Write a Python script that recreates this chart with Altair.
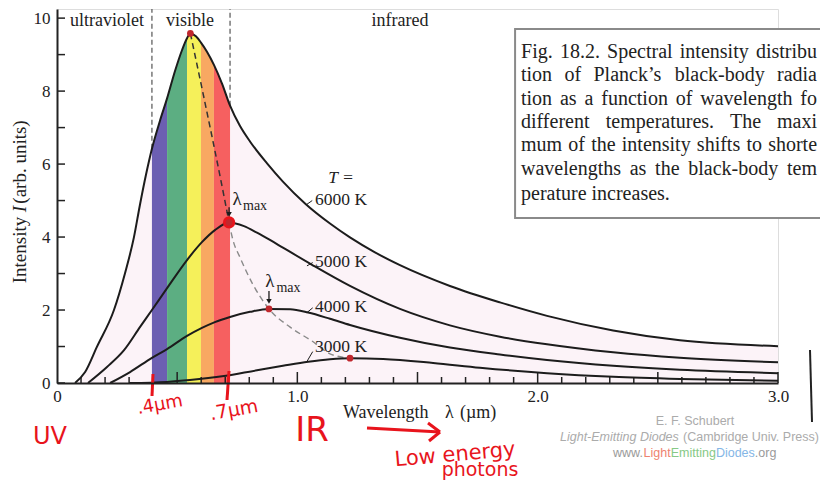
import altair as alt
import pandas as pd

# ---------------- values ----------------
lam_6000 = [0.075, 0.117, 0.166, 0.237, 0.283, 0.320, 0.345, 0.370, 0.395, 0.429,
            0.458, 0.491, 0.520, 0.541, 0.555, 0.578, 0.599, 0.624, 0.653, 0.687,
            0.720, 0.761, 0.803, 0.874, 0.940, 1.032, 1.136, 1.219, 1.323, 1.427,
            1.635, 1.843, 2.039, 2.314, 2.592, 3.000]
int_6000 = [0.00, 0.30, 0.99, 2.00, 3.01, 3.99, 4.88, 5.70, 6.42, 7.20,
            7.80, 8.55, 9.12, 9.45, 9.58, 9.50, 9.33, 9.08, 8.72, 8.20,
            7.60, 7.05, 6.62, 6.02, 5.52, 4.92, 4.37, 3.99, 3.58, 3.23,
            2.66, 2.21, 1.84, 1.44, 1.17, 1.01]

lam_5000 = [0.129, 0.208, 0.279, 0.345, 0.395, 0.458, 0.541, 0.603, 0.657, 0.716,
            0.778, 0.832, 0.886, 0.940, 1.061, 1.219, 1.427, 1.635, 1.843, 2.039,
            2.314, 2.592, 3.000]
int_5000 = [0.00, 0.44, 0.90, 1.53, 2.00, 2.60, 3.37, 3.86, 4.19, 4.40,
            4.30, 4.12, 3.92, 3.71, 3.24, 2.66, 2.03, 1.58, 1.27, 1.06,
            0.84, 0.69, 0.57]

lam_4000 = [0.221, 0.304, 0.395, 0.458, 0.541, 0.603, 0.657, 0.720, 0.803, 0.882,
            0.970, 1.045, 1.136, 1.219, 1.427, 1.635, 1.843, 2.039, 2.314, 2.592,
            3.000]
int_4000 = [0.00, 0.30, 0.69, 0.93, 1.29, 1.51, 1.67, 1.81, 1.95, 2.03,
            2.02, 1.93, 1.76, 1.59, 1.24, 0.97, 0.78, 0.63, 0.47, 0.36,
            0.27]

lam_3000 = [0.300, 0.458, 0.553, 0.695, 0.832, 0.940, 1.045, 1.136, 1.219, 1.357,
            1.565, 1.760, 2.039, 2.314, 2.592, 3.000]
int_3000 = [0.00, 0.03, 0.08, 0.19, 0.35, 0.47, 0.58, 0.65, 0.68, 0.66,
            0.55, 0.42, 0.27, 0.17, 0.11, 0.06]

temps = ["6000 K", "5000 K", "4000 K", "3000 K"]

peak_lam = [0.555, 0.716, 0.882, 1.219]
peak_int = [9.58, 4.40, 2.03, 0.68]

locus_dark_lam = [0.555, 0.612, 0.694, 0.716]
locus_dark_int = [9.58, 7.80, 5.15, 4.40]
locus_grey_lam = [0.716, 0.732, 0.761, 0.816, 0.882, 0.970, 1.061, 1.136, 1.219]
locus_grey_int = [4.40, 3.92, 3.45, 2.69, 2.03, 1.53, 1.15, 0.80, 0.68]

band_lo = [0.395, 0.458, 0.541, 0.599, 0.653]
band_hi = [0.458, 0.541, 0.599, 0.653, 0.720]
band_col = ["#6c5fb2", "#5cae82", "#f5f05a", "#f8a862", "#f66060"]

x_tick_labels = [0, 1, 2, 3]
y_tick_labels = [0, 2, 4, 6, 8, 10]
y_ticks = [0, 1, 2, 3, 4, 5, 6, 7, 8, 9, 10]
x_major = [0.5, 1.0, 1.5, 2.0, 2.5, 3.0]
x_minor = [round(i / 10, 1) for i in range(1, 30) if i % 5 != 0]

# caption text, as visible (cut at the picture's right edge)
caption_lines = [
    "Fig. 18.2. Spectral intensity distribu",
    "tion of Planck\u2019s black-body radia",
    "tion as a function of wavelength fo",
    "different temperatures. The maxi",
    "mum of the intensity shifts to shorte",
    "wavelengths as the black-body tem",
    "perature increases.",
]
caption_y = [9.07, 8.44, 7.79, 7.16, 6.53, 5.87, 5.18]

# ---------------- layout helpers (justify the caption like the book) ----------------
TNR = {" ": 250, ".": 250, ",": 250, "-": 333, "\u2019": 333, "'": 180, "(": 333, ")": 333,
       "F": 556, "P": 556, "S": 556, "T": 611,
       "a": 444, "b": 500, "c": 444, "d": 500, "e": 444, "f": 333, "g": 500, "h": 500,
       "i": 278, "k": 500, "l": 278, "m": 778, "n": 500, "o": 500, "p": 500, "r": 333,
       "s": 389, "t": 278, "u": 500, "v": 500, "w": 722, "x": 500, "y": 500}
CAP_FS = 20
CAP_LEFT_PX = 521
CAP_RIGHT_PX = 817


def word_w(w):
    return sum(TNR.get(ch, 500) for ch in w) / 1000 * CAP_FS


def px_to_lam(px):
    return (px - 57) / 240.33


cap_rows = []
for i, line in enumerate(caption_lines):
    words = line.split(" ")
    if i == len(caption_lines) - 1:
        gap = TNR[" "] / 1000 * CAP_FS
    else:
        gap = (CAP_RIGHT_PX - CAP_LEFT_PX - sum(word_w(w) for w in words)) / (len(words) - 1)
    pos = CAP_LEFT_PX
    for w in words:
        cap_rows.append({"x": px_to_lam(pos), "y": caption_y[i], "t": w})
        pos += word_w(w) + gap
caption = pd.DataFrame(cap_rows)

# ---------------- tables ----------------
curves = pd.concat([
    pd.DataFrame({"lam": lam_6000, "I": int_6000, "T": temps[0]}),
    pd.DataFrame({"lam": lam_5000, "I": int_5000, "T": temps[1]}),
    pd.DataFrame({"lam": lam_4000, "I": int_4000, "T": temps[2]}),
    pd.DataFrame({"lam": lam_3000, "I": int_3000, "T": temps[3]}),
])
df6000 = pd.DataFrame({"lam": lam_6000, "I": int_6000})
df_mask = df6000[(df6000.lam >= 0.34) & (df6000.lam <= 0.81)].copy()
df_mask["top"] = 10.2
bands = pd.DataFrame({"lo": band_lo, "hi": band_hi, "c": band_col, "y0": 0.0, "y1": 10.1})
peaks = pd.DataFrame({"lam": peak_lam, "I": peak_int})

SERIF = "Liberation Serif"
SANS = "Liberation Sans"
HAND = "DejaVu Sans"
RED = "#e8141c"
INK = "#1c1c1c"

xs = alt.Scale(domain=[0, 3.0], nice=False, zero=False)
ys = alt.Scale(domain=[0, 10.25], nice=False, zero=False)

x_axis = alt.Axis(values=x_tick_labels,
                  labelExpr="datum.value == 0 ? '0' : format(datum.value, '.1f')",
                  ticks=False, tickSize=0, grid=False, domainColor="#222", domainWidth=2,
                  labelFont=SERIF, labelFontSize=17, labelColor="#222", labelPadding=5,
                  labelFlush=False, title=None, zindex=1)
y_axis = alt.Axis(values=y_tick_labels, ticks=False, tickSize=0, grid=False,
                  domainColor="#222", domainWidth=2, labelFont=SERIF, labelFontSize=17,
                  labelColor="#222", labelPadding=7, labelFlush=False, title=None, zindex=1)


def ex(f):
    return alt.X(f"{f}:Q", scale=xs, axis=x_axis, title=None)


def ey(f):
    return alt.Y(f"{f}:Q", scale=ys, axis=y_axis, title=None)


def dtext(rows, **kw):
    return alt.Chart(pd.DataFrame(rows)).mark_text(**kw).encode(x=ex("x"), y=ey("y"), text="t:N")


def ptext(t, x, y, **kw):
    return alt.Chart(pd.DataFrame({"t": [t]})).mark_text(**kw).encode(
        x=alt.value(x), y=alt.value(y), text="t:N")


def prule(x1, y1, x2, y2, **kw):
    return alt.Chart(pd.DataFrame({"a": [0]})).mark_rule(**kw).encode(
        x=alt.value(x1), y=alt.value(y1), x2=alt.value(x2), y2=alt.value(y2))


def drules(rows, **kw):
    return alt.Chart(pd.DataFrame(rows)).mark_rule(**kw).encode(
        x=ex("x"), y=ey("y"), x2="x2:Q", y2="y2:Q")


layers = []
# pink fill below the 6000 K curve
layers.append(alt.Chart(df6000).mark_area(color="#fcf3f8", interpolate="monotone").encode(
    x=ex("lam"), y=ey("I")))
# visible spectrum bands, trimmed by a white mask above the 6000 K curve
layers.append(alt.Chart(bands).mark_rect().encode(
    x=ex("lo"), x2="hi:Q", y=ey("y0"), y2="y1:Q", color=alt.Color("c:N", scale=None)))
layers.append(alt.Chart(df_mask).mark_area(color="white", interpolate="monotone").encode(
    x=ex("lam"), y=ey("I"), y2="top:Q"))
# dashed region separators
layers.append(drules([{"x": 0.395, "y": 6.42, "x2": 0.395, "y2": 10.25},
                      {"x": 0.720, "y": 7.60, "x2": 0.720, "y2": 10.25}],
                     color="#555", strokeWidth=1.2, strokeDash=[5, 3]))
layers.append(dtext([{"x": 0.208, "y": 9.92, "t": "ultraviolet"},
                     {"x": 0.553, "y": 9.92, "t": "visible"},
                     {"x": 1.427, "y": 9.92, "t": "infrared"}],
                    font=SERIF, fontSize=18, color="#222", baseline="middle"))
# caption box
layers.append(alt.Chart(pd.DataFrame({"x": [1.906], "x2": [3.3], "y": [9.70], "y2": [4.52]}))
              .mark_rect(fill="white", stroke="#8a8a8a", strokeWidth=2)
              .encode(x=ex("x"), x2="x2:Q", y=ey("y"), y2="y2:Q"))
layers.append(alt.Chart(caption).mark_text(font=SERIF, fontSize=CAP_FS, color="#222", align="left",
                                           baseline="middle")
              .encode(x=ex("x"), y=ey("y"), text="t:N"))
# inward ticks
layers.append(alt.Chart(pd.DataFrame({"v": y_ticks})).mark_rule(color="#222", strokeWidth=1.5)
              .encode(y=ey("v"), x=alt.value(0), x2=alt.value(8)))
layers.append(alt.Chart(pd.DataFrame({"v": x_minor})).mark_rule(color="#222", strokeWidth=1.5)
              .encode(x=ex("v"), y=alt.value(374), y2=alt.value(368)))
layers.append(alt.Chart(pd.DataFrame({"v": x_major})).mark_rule(color="#222", strokeWidth=1.5)
              .encode(x=ex("v"), y=alt.value(374), y2=alt.value(363)))
# Wien locus
layers.append(alt.Chart(pd.DataFrame({"lam": locus_dark_lam, "I": locus_dark_int}))
              .mark_line(color="#333", strokeWidth=1.5, strokeDash=[6, 4], interpolate="monotone")
              .encode(x=ex("lam"), y=ey("I")))
layers.append(alt.Chart(pd.DataFrame({"lam": locus_grey_lam, "I": locus_grey_int}))
              .mark_line(color="#8a8a8a", strokeWidth=1.4, strokeDash=[6, 4], interpolate="monotone")
              .encode(x=ex("lam"), y=ey("I")))
# the four black-body curves
layers.append(alt.Chart(curves).mark_line(color=INK, strokeWidth=2, interpolate="monotone")
              .encode(x=ex("lam"), y=ey("I"), detail="T:N"))
# peaks
layers.append(alt.Chart(peaks.iloc[[1]]).mark_point(filled=True, color=RED, size=150, opacity=1)
              .encode(x=ex("lam"), y=ey("I")))
layers.append(alt.Chart(peaks).mark_point(filled=True, color="#c0272d", size=45, opacity=1)
              .encode(x=ex("lam"), y=ey("I")))
# lambda_max arrows and labels
layers.append(drules([{"x": 0.716, "y": 4.82, "x2": 0.716, "y2": 4.64},
                      {"x": 0.882, "y": 2.52, "x2": 0.882, "y2": 2.27}],
                     color=INK, strokeWidth=1.3))
layers.append(alt.Chart(pd.DataFrame({"x": [0.716, 0.882], "y": [4.62, 2.24]}))
              .mark_point(shape="triangle-down", filled=True, color=INK, size=30, opacity=1)
              .encode(x=ex("x"), y=ey("y")))
layers.append(dtext([{"x": 0.749, "y": 5.04, "t": "\u03bb"}, {"x": 0.886, "y": 2.80, "t": "\u03bb"}],
                    font=SERIF, fontSize=19, color="#222", baseline="middle"))
layers.append(dtext([{"x": 0.774, "y": 4.85, "t": "max"}, {"x": 0.913, "y": 2.60, "t": "max"}],
                    font=SERIF, fontSize=14, color="#222", baseline="middle", align="left"))
# temperature labels
layers.append(dtext([{"x": 1.182, "y": 5.62, "t": "T ="}],
                    font=SERIF, fontSize=17.5, fontStyle="italic", color="#222", baseline="middle"))
layers.append(dtext([{"x": 1.074, "y": 5.015, "t": temps[0]},
                     {"x": 1.074, "y": 3.316, "t": temps[1]},
                     {"x": 1.074, "y": 2.083, "t": temps[2]},
                     {"x": 1.074, "y": 0.987, "t": temps[3]}],
                    font=SERIF, fontSize=17.5, color="#222", baseline="middle", align="left"))
layers.append(drules([{"x": 1.062, "y": 5.00, "x2": 1.036, "y2": 4.88},
                      {"x": 1.064, "y": 3.30, "x2": 1.040, "y2": 3.21},
                      {"x": 1.064, "y": 2.06, "x2": 1.040, "y2": 1.93},
                      {"x": 1.064, "y": 0.86, "x2": 1.040, "y2": 0.59}],
                     color=INK, strokeWidth=1))
# axis titles
layers.append(ptext("Intensity", -37, 241, font=SERIF, fontSize=19, angle=270, color="#222", baseline="middle"))
layers.append(ptext("I", -37, 200, font=SERIF, fontSize=19, angle=270, fontStyle="italic", color="#222", baseline="middle"))
layers.append(ptext("(arb. units)", -37, 153, font=SERIF, fontSize=19, angle=270, color="#222", baseline="middle"))
layers.append(ptext("Wavelength", 286, 404, font=SERIF, fontSize=18, color="#222", align="left", baseline="middle"))
layers.append(ptext("\u03bb", 388, 404, font=SERIF, fontSize=18, color="#222", align="left", baseline="middle"))
layers.append(ptext("(\u00b5m)", 403, 404, font=SERIF, fontSize=18, color="#222", align="left", baseline="middle"))
# watermark
layers.append(ptext("E. F. Schubert", 638, 412, font=SANS, fontSize=12.5, color="#ababab", baseline="middle"))
layers.append(ptext("Light-Emitting Diodes", 503, 428, font=SANS, fontSize=12.5, fontStyle="italic",
                    color="#ababab", align="left", baseline="middle"))
layers.append(ptext("(Cambridge Univ. Press)", 626, 428, font=SANS, fontSize=12.5, color="#ababab",
                    align="left", baseline="middle"))
for word, xx, col in [("www.", 556, "#9a9a9a"), ("Light", 586.6, "#ee8270"),
                      ("Emitting", 613.7, "#86c986"), ("Diodes", 658.9, "#84b6e6"),
                      (".org", 697.8, "#9a9a9a")]:
    layers.append(ptext(word, xx, 444, font=SANS, fontSize=12.5, color=col, align="left", baseline="middle"))
# handwritten annotations
layers.append(prule(96, 365, 95, 387, color=RED, strokeWidth=3))
layers.append(prule(172, 362, 170, 391, color=RED, strokeWidth=3))
layers.append(ptext("UV", -7, 428, font=HAND, fontSize=24, color=RED, baseline="middle"))
layers.append(ptext(".4\u00b5m", 103, 396, font=HAND, fontSize=18, color=RED, baseline="middle", angle=350))
layers.append(ptext(".7\u00b5m", 177, 401, font=HAND, fontSize=19, color=RED, baseline="middle", angle=350))
layers.append(ptext("IR", 255, 422, font=HAND, fontSize=34, color=RED, baseline="middle"))
layers.append(prule(310, 419, 383, 423, color=RED, strokeWidth=3))
layers.append(prule(383, 423, 371, 414, color=RED, strokeWidth=3))
layers.append(prule(383, 423, 372, 432, color=RED, strokeWidth=3))
layers.append(ptext("Low energy", 398, 446, font=HAND, fontSize=21, color=RED, baseline="middle", angle=355))
layers.append(ptext("photons", 423, 461, font=HAND, fontSize=19, color=RED, baseline="middle"))
layers.append(prule(753, 341, 755, 413, color="#222", strokeWidth=2))

chart = alt.layer(*layers).properties(
    width=721, height=374,
    autosize=alt.AutoSizeParams(type="none"),
    padding={"left": 49, "top": 1, "right": 42, "bottom": 98},
).configure_view(stroke="#222", strokeWidth=1.5, fill="white").configure(background="white")

chart.save("out.html", embed_options={"renderer": "svg", "actions": False})
